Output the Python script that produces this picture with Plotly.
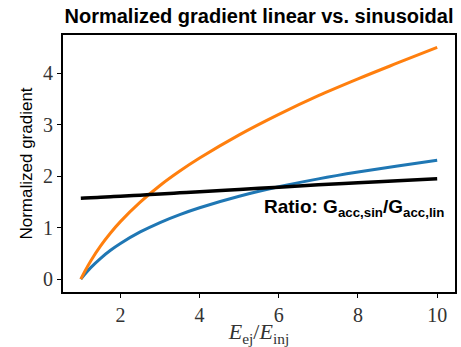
import plotly.graph_objects as go

# Energy ratio E_ej / E_inj
energy_ratio = [1.0, 1.1, 1.25, 1.5, 1.75, 2.0, 2.5, 3.0, 3.5, 4.0, 5.0, 6.0, 7.0, 8.0, 9.0, 10.0]
# Normalized gradient, linear profile
grad_linear = [0.0, 0.095, 0.223, 0.405, 0.560, 0.693, 0.916, 1.099, 1.253, 1.386,
               1.609, 1.792, 1.946, 2.079, 2.197, 2.310]
# Normalized gradient, sinusoidal profile
grad_sinus = [0.0, 0.150, 0.353, 0.645, 0.895, 1.116, 1.494, 1.818, 2.098, 2.350,
              2.800, 3.198, 3.561, 3.888, 4.197, 4.500]
# Ratio G_acc,sin / G_acc,lin
grad_ratio = [1.571, 1.575, 1.580, 1.590, 1.600, 1.610, 1.630, 1.655, 1.675, 1.695,
              1.740, 1.785, 1.830, 1.870, 1.910, 1.950]

x_ticks = [2, 4, 6, 8, 10]
y_ticks = [0, 1, 2, 3, 4]

fig = go.Figure()
fig.add_trace(go.Scatter(x=energy_ratio, y=grad_linear, mode="lines",
                         line=dict(color="#1f77b4", width=3), line_shape="spline"))
fig.add_trace(go.Scatter(x=energy_ratio, y=grad_sinus, mode="lines",
                         line=dict(color="#ff7f0e", width=3), line_shape="spline"))
fig.add_trace(go.Scatter(x=energy_ratio, y=grad_ratio, mode="lines",
                         line=dict(color="black", width=3.5), line_shape="spline"))

tick_font = dict(family="Liberation Serif", size=20, color="#333333")
axis_common = dict(showgrid=False, zeroline=False, showline=True, mirror=True,
                   linecolor="black", linewidth=2, ticks="outside", ticklen=4,
                   tickwidth=1, tickcolor="black", tickfont=tick_font)

fig.update_layout(
    width=461, height=347,
    margin=dict(l=63, r=4, t=35, b=54),
    paper_bgcolor="white", plot_bgcolor="white",
    showlegend=False,
    title=dict(text="<b>Normalized gradient linear vs. sinusoidal</b>",
               x=0.5, xref="paper", xanchor="center", y=0.955, yanchor="middle",
               font=dict(family="Liberation Sans", size=20, color="black")),
    xaxis=dict(range=[0.55, 10.45], tickvals=x_ticks,
               title=dict(text="<i>E</i><sub>ej</sub>/<i>E</i><sub>inj</sub>",
                          font=dict(family="Liberation Serif", size=22, color="#333333"),
                          standoff=2),
               **axis_common),
    yaxis=dict(range=[-0.25, 4.74], tickvals=y_ticks,
               title=dict(text="Normalized gradient",
                          font=dict(family="Liberation Sans", size=17, color="black"),
                          standoff=6),
               **axis_common),
    annotations=[dict(text="<b>Ratio: G<sub>acc,sin</sub>/G<sub>acc,lin</sub></b>",
                      x=0.978, y=1.39, xref="paper", yref="y",
                      xanchor="right", yanchor="middle", showarrow=False,
                      font=dict(family="Liberation Sans", size=19, color="black"))],
)

fig.write_html("out.html")
